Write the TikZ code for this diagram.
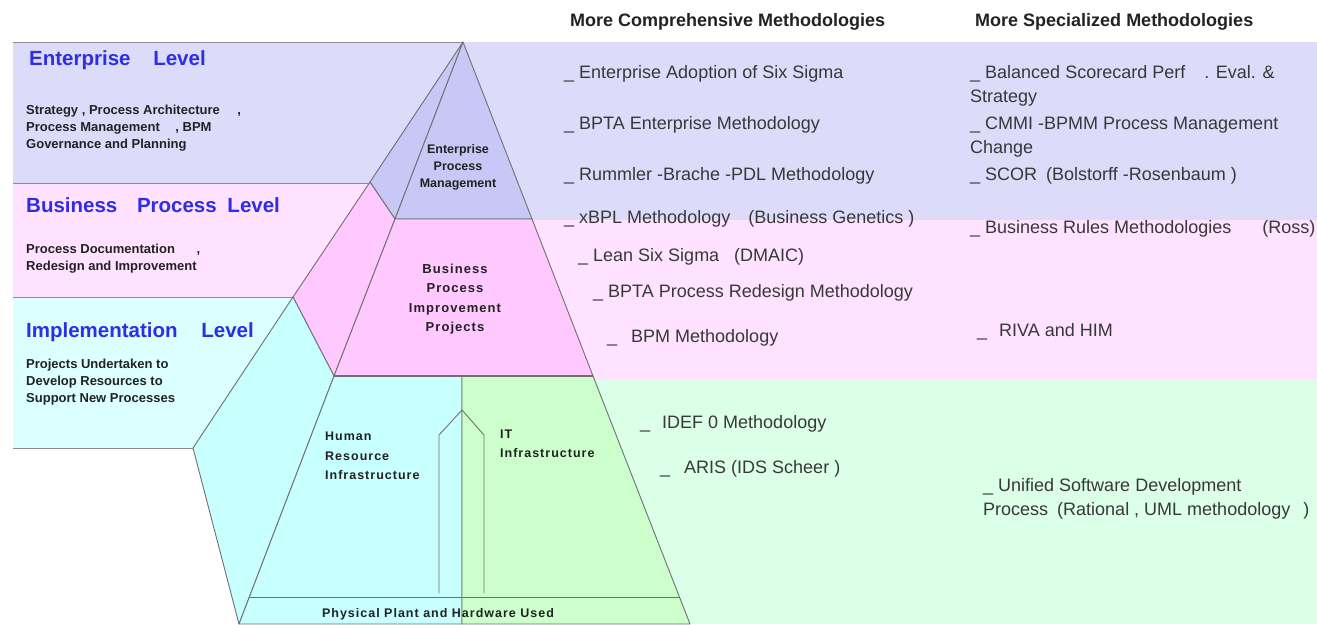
\documentclass[tikz,border=0pt]{standalone}
\usepackage{fontspec}
\setmainfont{Liberation Sans}
\newfontfamily\spacedsans[LetterSpace=8]{Liberation Sans}
\definecolor{entband}{HTML}{DCDCFA}
\definecolor{entface}{HTML}{C8C8F6}
\definecolor{bpband}{HTML}{FFE2FF}
\definecolor{bpface}{HTML}{FFC8FF}
\definecolor{impband}{HTML}{DCFFFF}
\definecolor{hrface}{HTML}{C8FFFF}
\definecolor{itface}{HTML}{CCFFCC}
\definecolor{itband}{HTML}{DCFFE8}
\definecolor{levelblue}{HTML}{2E2EE8}
\definecolor{ink}{HTML}{222222}
\definecolor{edgegray}{HTML}{707070}

\begin{document}
\begin{tikzpicture}[x=1pt,y=-1pt,
  edge/.style={draw=edgegray,line width=0.9pt,line join=round},
  bandline/.style={draw=edgegray!80,line width=1pt},
  leveltitle/.style={anchor=west,inner sep=0pt,font=\fontsize{20.5}{24}\selectfont\bfseries,text=levelblue},
  leveltext/.style={anchor=west,inner sep=0pt,align=left,font=\fontsize{13}{17}\selectfont\bfseries,text=ink},
  facelabel/.style={inner sep=0pt,align=center,font=\fontsize{12.5}{17}\selectfont\bfseries,text=ink},
  spacedlabel/.style={inner sep=0pt,font=\spacedsans\fontsize{12.5}{19.5}\selectfont\bfseries,text=ink},
  colhead/.style={anchor=west,inner sep=0pt,font=\fontsize{18}{24}\selectfont\bfseries,text=ink},
  method/.style={anchor=west,inner sep=0pt,align=left,font=\fontsize{18}{24.5}\selectfont,text=ink!90}
]
\useasboundingbox (0,0) rectangle (1317,624);

% level bands
\fill[entband] (13,42) rectangle (462,183);
\fill[bpband] (13,183) rectangle (462,297);
\fill[impband] (13,297) rectangle (462,448);
\fill[entband] (462,42) rectangle (1317,220);
\fill[bpband] (462,220) rectangle (1317,380);
\fill[itband] (462,380) rectangle (1317,624);
\draw[bandline] (13,42) -- (463,42);
\draw[bandline] (13,183) -- (370,183);
\draw[bandline] (13,297) -- (293,297);
\draw[bandline] (13,448) -- (193,448);

% pyramid corners
\coordinate (apex) at (463,42);
\coordinate (el) at (395,219);
\coordinate (er) at (532,219);
\coordinate (bl) at (334,376);
\coordinate (bm) at (462,376);
\coordinate (br) at (593,376);
\coordinate (pl) at (249,597);
\coordinate (pr) at (680,597);
\coordinate (fl) at (239,624);
\coordinate (fm) at (462,624);
\coordinate (fr) at (690,624);
\coordinate (k1) at (370,182);
\coordinate (k2) at (293,297);
\coordinate (k3) at (193,448);

\filldraw[edge,fill=entface] (apex) -- (k1) -- (el) -- cycle;
\filldraw[edge,fill=entface] (apex) -- (el) -- (er) -- cycle;
\filldraw[edge,fill=bpface] (k1) -- (el) -- (bl) -- (k2) -- cycle;
\filldraw[edge,fill=bpface] (el) -- (er) -- (br) -- (bl) -- cycle;
\filldraw[edge,fill=hrface] (k2) -- (bl) -- (fl) -- (k3) -- cycle;
\filldraw[edge,fill=hrface] (bl) -- (bm) -- (fm) -- (fl) -- cycle;
\filldraw[edge,fill=itface] (bm) -- (br) -- (fr) -- (fm) -- cycle;
\draw[edge,line width=1.8pt] (bl) -- (br);
\draw[edge] (pl) -- (pr);

% upward outline arrow
\coordinate (al) at (439,593);
\coordinate (ar) at (484,593);
\draw[edge] (al) -- (439,435) -- (462,410) -- (484,435) -- (ar);

% left side levels
\node[leveltitle] (entlvl) at (29,60) {Enterprise\hspace{17pt} Level};
\node[leveltext] (entdesc) at (26,128) {Strategy , Process Architecture\hspace{14pt} ,\\Process Management\hspace{12pt} , BPM\\Governance and Planning};
\node[leveltitle] (bplvl) at (26,205) {Business\hspace{14pt} Process\hspace{5pt} Level};
\node[leveltext] (bpdesc) at (26,259) {Process Documentation\hspace{18pt} ,\\Redesign and Improvement};
\node[leveltitle] (implvl) at (26,332) {Implementation\hspace{18pt} Level};
\node[leveltext] (impdesc) at (26,382) {Projects Undertaken to\\Develop Resources to\\Support New Processes};

% pyramid labels
\node[facelabel] (epm) at (458,167) {Enterprise\\Process\\Management};
\node[spacedlabel,align=center,font=\spacedsans\fontsize{13}{19.5}\selectfont\bfseries] (bpip) at (455,299) {Business\\Process\\Improvement\\Projects};
\node[spacedlabel,align=left,anchor=west] (hri) at (325,456) {Human\\Resource\\Infrastructure};
\node[spacedlabel,align=left,anchor=west] (iti) at (500,444) {IT\\Infrastructure};
\node[spacedlabel] (phys) at (438,614) {Physical Plant and Hardware Used};

% methodology columns
\node[colhead] (comp) at (570,22) {More Comprehensive Methodologies};
\node[colhead] (spec) at (975,22) {More Specialized Methodologies};

\node[method] (c1) at (564,74) {\_ Enterprise Adoption of Six Sigma};
\node[method] (c2) at (564,125) {\_ BPTA Enterprise Methodology};
\node[method] (c3) at (564,176) {\_ Rummler -Brache -PDL Methodology};
\node[method] (c4) at (564,219) {\_ xBPL Methodology\hspace{13pt} (Business Genetics )};
\node[method] (c5) at (578,257) {\_ Lean Six Sigma\hspace{10pt} (DMAIC)};
\node[method] (c6) at (593,293) {\_ BPTA Process Redesign Methodology};
\node[method] (c7) at (607,338) {\_\hspace{9pt} BPM Methodology};
\node[method] (c8) at (640,424) {\_\hspace{7pt} IDEF 0 Methodology};
\node[method] (c9) at (660,469) {\_\hspace{9pt} ARIS (IDS Scheer )};

\node[method] (sp1) at (970,86) {\_ Balanced Scorecard Perf\hspace{14pt} . Eval. \&\\Strategy};
\node[method] (sp2) at (970,137) {\_ CMMI -BPMM Process Management\\Change};
\node[method] (sp3) at (970,176) {\_ SCOR\hspace{4pt} (Bolstorff -Rosenbaum )};
\node[method] (sp4) at (970,229) {\_ Business Rules Methodologies\hspace{26pt} (Ross)};
\node[method] (sp5) at (977,332) {\_\hspace{7pt} RIVA and HIM};
\node[method] (sp6) at (983,499) {\_ Unified Software Development\\Process\hspace{4pt} (Rational , UML methodology\hspace{8pt} )};
\end{tikzpicture}
\end{document}
